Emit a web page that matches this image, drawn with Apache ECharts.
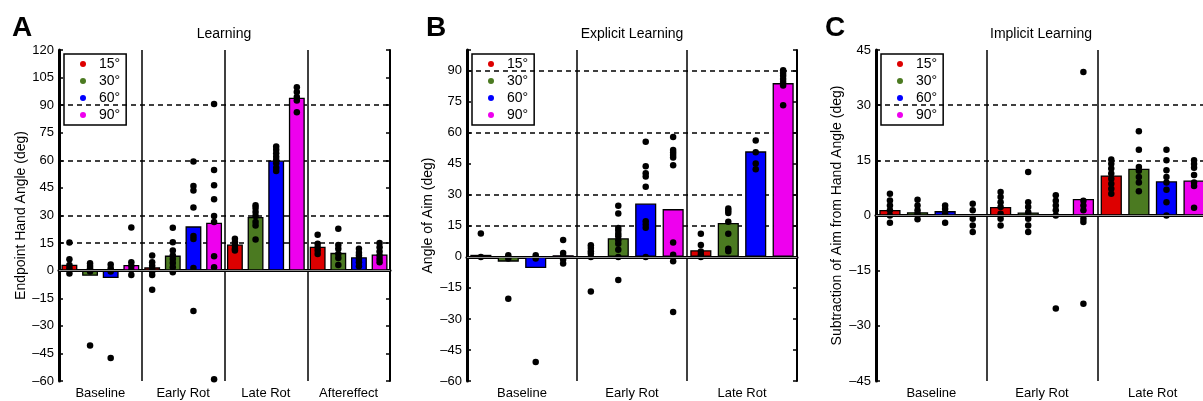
<!DOCTYPE html>
<html lang="en">
<head>
    <meta charset="UTF-8">
    <title>Learning, explicit and implicit</title>
    <script src="https://cdn.jsdelivr.net/npm/echarts@6.0.0/dist/echarts.min.js"></script>
    <style>
        body { margin: 0; background: #fff; }
        #chart { width: 1203px; height: 401px; }
    </style>
</head>
<body>
    <div id="chart"></div>
    <script>
        // ---- data ----
        const rotations = ['15°', '30°', '60°', '90°']
        const phasesA = ['Baseline', 'Early Rot', 'Late Rot', 'Aftereffect']
        const phasesBC = ['Baseline', 'Early Rot', 'Late Rot']

        // bar heights, one row per rotation, one column per phase
        const learnMeans = [
            [3.2, 1.8, 14.2, 13],
            [-2.8, 8.2, 29.2, 9.7],
            [-4, 24.1, 59.9, 7.3],
            [3.1, 26.1, 94, 8.8]
        ]
        const explicitMeans = [
            [1, -0.5, 3.2],
            [-2.3, 9, 16.4],
            [-5.4, 25.8, 51],
            [0.8, 23.1, 84]
        ]
        const implicitMeans = [
            [1.5, 2.3, 10.9],
            [0.9, 0.8, 12.7],
            [1.2, 0.2, 9.3],
            [0.1, 4.5, 9.5]
        ]

        // individual subjects, [rotation][phase] -> values
        const learnDots = [
            [[15.3, 6.2, 3.1, 1.3, -1.5], [8.2, 4.6, 2.7, 0.9, -0.4, -2.4, -10.4], [17.3, 15.5, 13.7, 11.9, 10.9], [19.5, 14.6, 12.8, 10.9, 9.1]],
            [[4, 2.6, 1.3, -0.5, -40.7], [23.4, 15.5, 11, 8.2, 6.4, 4.2, 1.8, -0.9], [35.6, 34.1, 31.9, 29.7, 26.5, 24.6, 17], [22.8, 14, 11.9, 9.1, 6.9, 3.1]],
            [[3.4, 1.3, -0.5, -47.5], [59.3, 46, 43.6, 34.3, 18.8, 17.2, 1.5, -22], [67.5, 65.7, 63.9, 62, 60.2, 58.4, 56, 54.2], [11.9, 9.7, 8.2, 6.4, 4.6, 2.4]],
            [[23.5, 4.6, 2.6, 0.4, -2.4], [90.7, 54.7, 46.5, 38.9, 29.7, 26.5, 7.8, 1.8, -59], [99.8, 97.1, 94.4, 92.6, 86.1], [15.1, 12.8, 10.4, 8.2, 6.4, 4.6]]
        ]
        const explicitDots = [
            [[11.3, 0], [5.6, 4.3, 2.7, 1.6, 0, -16.7], [11.2, 5.8, 2.6, 1, 0]],
            [[0.8, -0.8, -20.2], [24.7, 21, 14, 12.7, 11.2, 10, 8, 6.3, 3.5, 0, -11.2], [23.4, 22.3, 21.2, 17, 11.2, 3.9, 2.7]],
            [[0.8, -0.8, -50.8], [55.7, 43.8, 40.4, 38.8, 33.9, 17.2, 15.6, 14.1, 0], [56.3, 50.6, 45.1, 42.4]],
            [[8.2, 1.9, 0.3, -1.3, -3.2], [58, 51.7, 50.4, 49.3, 48, 44.3, 7, 1, -2.1, -26.6], [90.2, 88.9, 87.5, 86, 84.5, 82.9, 73.3]]
        ]
        const implicitDots = [
            [[5.9, 4.1, 2.7, 1.4, 0, -2], [6.4, 5, 3.6, 2.3, 0.5, -0.9, -2.7], [15.2, 14.1, 12.8, 11.4, 10, 8.6, 7.3, 5.9]],
            [[4.3, 2.7, 1.4, 0.5, -1], [11.8, 3.6, 2.3, 0.9, -0.9, -2.7, -4.5], [22.9, 17.9, 13.2, 12.2, 10.5, 9, 6.6]],
            [[2.7, 1.8, 0.5, -2], [5.5, 4, 2.7, 1.4, 0, -25.3], [17.9, 15, 12.3, 10.5, 9, 7, 3.6, 0]],
            [[3.2, 1.4, -0.9, -2.7, -4.5], [39, 4, 2.7, 1.4, -0.9, -1.8, -24], [15, 14, 13, 11, 9, 8, 2.1]]
        ]

        const learnRefs = [15, 30, 60, 90]
        const explicitRefs = [15, 30, 60, 90]
        const implicitRefs = [15, 30]

        // ---- styling ----
        const colors = ['#dd0000', '#4b7a21', '#0000ff', '#ee00ee']
        const font = 'Liberation Sans, Arial, Helvetica, sans-serif'
        const STEP = 15
        const CAT_GAP = 0.06
        const BAR_GAP = 0.3
        const barW = (1 - CAT_GAP) / (rotations.length + (rotations.length - 1) * BAR_GAP)

        // centre of bar i inside category g, in category units
        const barCenter = (g, i) => g + CAT_GAP / 2 + barW / 2 + i * barW * (1 + BAR_GAP)

        const minus = (v) => v < 0 ? '\u2013' + (-v) : String(v)

        // one colour per y tick so only the reference levels show as dashed lines
        const refColors = (min, max, refs) => {
            const out = []
            let v = min
            for (; v < max; v += STEP) out.push(refs.includes(v) ? '#000' : 'rgba(0,0,0,0)')
            out.push(refs.includes(max) ? '#000' : 'rgba(0,0,0,0)')
            return out
        }

        const panels = [
            { letter: 'A', letterX: 12, title: 'Learning', yName: 'Endpoint Hand Angle (deg)', left: 59, width: 331,
              min: -60, max: 120, cats: phasesA, means: learnMeans, dots: learnDots, refs: learnRefs, nameGap: 31, rightTicks: true },
            { letter: 'B', letterX: 426, title: 'Explicit Learning', yName: 'Angle of Aim (deg)', left: 467, width: 330,
              min: -60, max: 100, cats: phasesBC, means: explicitMeans, dots: explicitDots, refs: explicitRefs, nameGap: 32, rightTicks: true },
            // the right edge of this panel runs off the figure
            { letter: 'C', letterX: 825, title: 'Implicit Learning', yName: 'Subtraction of Aim from Hand Angle (deg)', left: 876, width: 332,
              min: -45, max: 45, cats: phasesBC, means: implicitMeans, dots: implicitDots, refs: implicitRefs, nameGap: 32, rightTicks: false }
        ]

        const grid = [], xAxis = [], yAxis = [], series = [], title = [], legend = []

        panels.forEach((p, k) => {
            grid.push({ left: p.left, top: 50, width: p.width, height: 331, outerBoundsMode: 'none', containLabel: false })

            title.push({
                text: p.letter, left: p.letterX, top: 14, padding: 0,
                textStyle: { fontFamily: font, fontSize: 28, fontWeight: 'bold', color: '#000' }
            })
            title.push({
                text: p.title, left: p.left + Math.min(p.width, 330) / 2, top: 27, padding: 0, textAlign: 'center',
                textStyle: { fontFamily: font, fontSize: 14, fontWeight: 'normal', color: '#000' }
            })

            legend.push({
                data: rotations, orient: 'vertical', left: p.left + 5, top: 54,
                icon: 'circle', itemWidth: 6, itemHeight: 6, itemGap: 3,
                padding: [3, 6, 3, 16], borderColor: '#000', borderWidth: 1.5,
                itemStyle: { borderWidth: 0 },
                textStyle: { fontFamily: font, fontSize: 14, color: '#000', lineHeight: 14, padding: [0, 0, 0, 8] }
            })

            // bottom category axis, top category axis, hidden value axis for dots
            xAxis.push({
                type: 'category', gridIndex: k, data: p.cats, position: 'bottom',
                axisLine: { lineStyle: { color: '#000', width: 3 } },
                axisTick: { inside: true, alignWithLabel: true, length: 3, lineStyle: { color: '#000', width: 2 } },
                axisLabel: { fontFamily: font, fontSize: 13, color: '#000', margin: 6 },
                splitLine: { show: true, lineStyle: { color: '#000', width: 1.5 } }
            })
            xAxis.push({
                type: 'category', gridIndex: k, data: p.cats, position: 'top',
                axisLine: { lineStyle: { color: '#000', width: 2 } },
                axisTick: { inside: true, alignWithLabel: true, length: 3, lineStyle: { color: '#000', width: 2 } },
                axisLabel: { show: false }, splitLine: { show: false }
            })
            xAxis.push({
                type: 'value', gridIndex: k, min: 0, max: p.cats.length, show: false
            })

            const yBase = {
                type: 'value', gridIndex: k, min: p.min, max: p.max, interval: STEP,
                axisTick: { inside: true, length: 4, lineStyle: { color: '#000', width: 1.5 } }
            }
            yAxis.push(Object.assign({}, yBase, {
                position: 'left', name: p.yName, nameLocation: 'middle', nameGap: p.nameGap,
                nameTextStyle: { fontFamily: font, fontSize: 14, color: '#000' },
                axisLine: { show: true, lineStyle: { color: '#000', width: 3 } },
                axisLabel: {
                    fontFamily: font, fontSize: 13, color: '#000', margin: 5,
                    formatter: (v) => v % STEP === 0 ? minus(v) : ''
                },
                splitLine: {
                    show: true,
                    lineStyle: { color: refColors(p.min, p.max, p.refs), type: [5, 4], width: 1.5 }
                }
            }))
            yAxis.push(Object.assign({}, yBase, {
                position: 'right',
                axisLine: { show: true, lineStyle: { color: '#000', width: 2 } },
                axisTick: { show: p.rightTicks, inside: true, length: 4, lineStyle: { color: '#000', width: 1.5 } },
                axisLabel: { show: false },
                splitLine: { show: false }
            }))

            rotations.forEach((rot, i) => {
                const bar = {
                    name: rot, type: 'bar', xAxisIndex: 3 * k, yAxisIndex: 2 * k,
                    data: p.means[i], barGap: (BAR_GAP * 100) + '%', barCategoryGap: (CAT_GAP * 100) + '%',
                    itemStyle: { color: colors[i], borderColor: '#000', borderWidth: 1.3 },
                    z: 2, silent: true
                }
                if (i === 0) {
                    bar.markLine = {
                        silent: true, symbol: 'none', label: { show: false },
                        data: [{ yAxis: 0, lineStyle: { type: 'solid', color: '#8c8c8c', width: 1 } }]
                    }
                }
                series.push(bar)

                const pts = []
                p.dots[i].forEach((vals, g) => {
                    vals.forEach((v) => pts.push([barCenter(g, i), v]))
                })
                series.push({
                    type: 'scatter', xAxisIndex: 3 * k + 2, yAxisIndex: 2 * k,
                    data: pts, symbolSize: 6.5, itemStyle: { color: '#000', opacity: 1 }, z: 4, silent: true
                })
            })
        })

        const chart = echarts.init(document.getElementById('chart'))
        chart.setOption({
            animation: false,
            backgroundColor: '#fff',
            title: title,
            legend: legend,
            grid: grid,
            xAxis: xAxis,
            yAxis: yAxis,
            series: series
        })
    </script>
</body>
</html>
